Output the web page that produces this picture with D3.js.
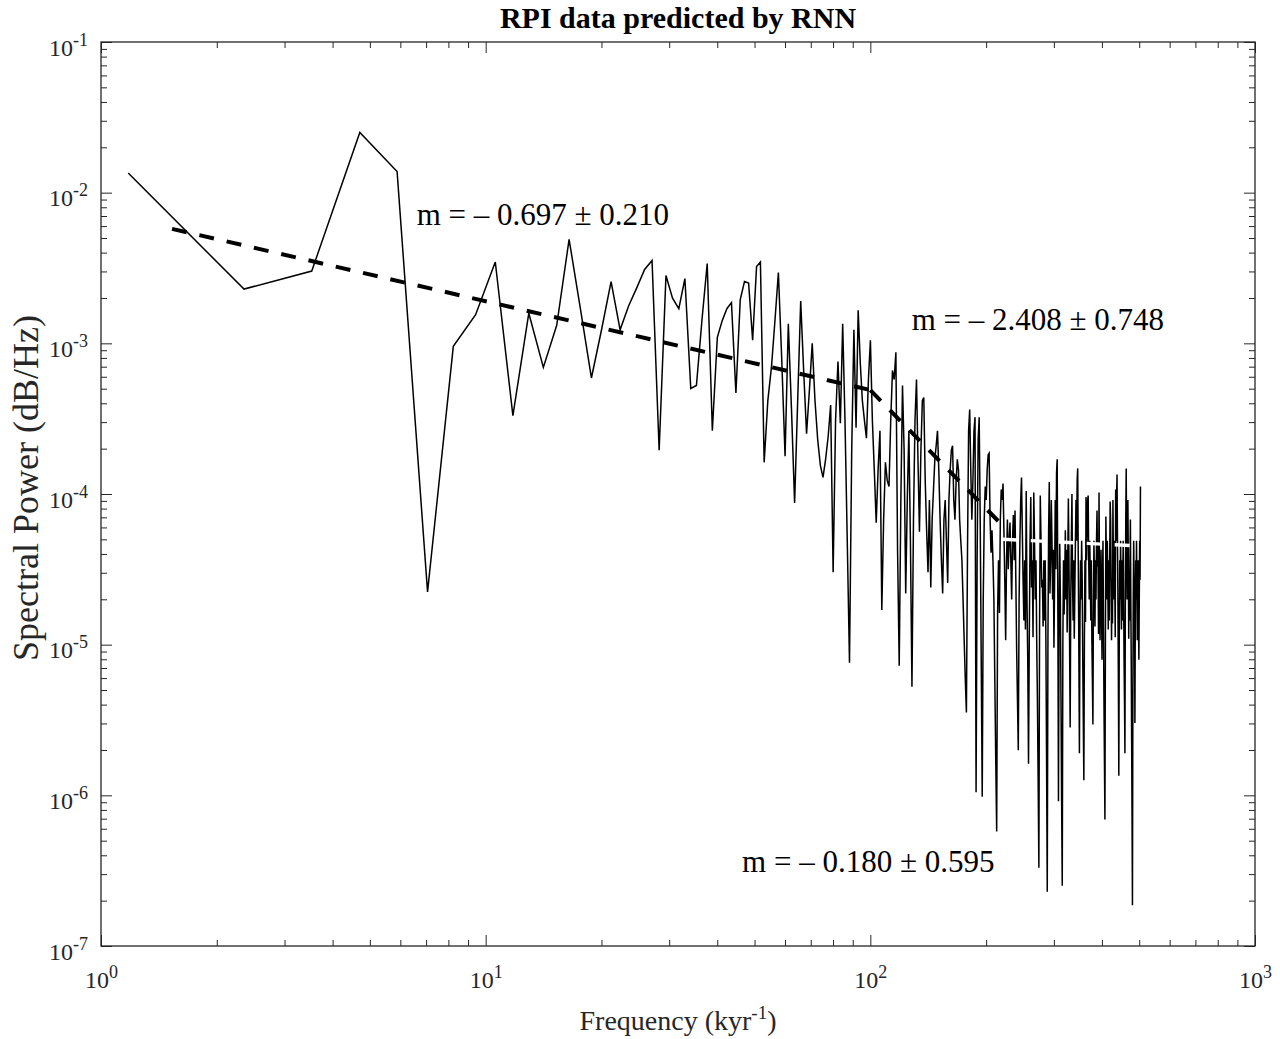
<!DOCTYPE html>
<html>
<head>
<meta charset="utf-8">
<script src="https://cdn.jsdelivr.net/npm/d3@7"></script>
<style>
  body { margin: 0; background: #fff; }
  svg text { font-family: "Liberation Serif", "Times New Roman", serif; fill: #262626; }
</style>
</head>
<body>
<script>

// spacing of the periodogram frequencies (kyr^-1)
var freqStep = 1.177;

// log10 of the spectral power, one value per frequency bin
var logPower = [
  -1.87, -2.64, -2.52, -1.60, -1.86, -4.65, -3.02, -2.81, -2.46, -3.48,
  -2.80, -3.16, -2.88, -2.31, -2.78, -3.23, -2.91, -2.59, -2.91, -2.75,
  -2.63, -2.51, -2.45, -3.71, -2.55, -2.70, -2.77, -2.57, -3.30, -3.28,
  -2.85, -2.47, -3.58, -2.96, -2.85, -2.77, -2.73, -3.33, -2.71, -2.59,
  -2.60, -2.98, -2.49, -2.46, -3.79, -3.38, -3.16, -2.85, -2.53, -3.11,
  -3.75, -2.87, -3.44, -4.06, -3.38, -2.72, -3.18, -3.60, -3.31, -3.00,
  -3.38, -3.64, -3.81, -3.89, -3.77, -3.62, -3.41, -4.52, -3.51, -3.12,
  -3.53, -2.87, -3.51, -4.31, -5.12, -3.71, -2.91, -3.56, -2.78, -3.13,
  -3.38, -3.51, -3.63, -3.24, -2.98, -3.51, -3.84, -4.19, -3.84, -3.58,
  -4.77, -4.17, -3.79, -3.91, -3.95, -3.51, -3.18, -3.24, -3.06, -4.37,
  -5.14, -4.04, -3.28, -3.71, -4.66, -4.04, -3.58, -4.31, -5.28, -4.17,
  -3.51, -3.24, -3.77, -4.25, -3.71, -3.38, -3.36, -3.91, -4.24, -4.52,
  -4.04, -4.62, -4.17, -3.97, -3.77, -3.68, -3.58, -3.84, -4.17, -4.44,
  -4.66, -4.17, -4.04, -4.31, -4.59, -4.04, -3.84, -3.71, -3.68, -4.04,
  -4.17, -3.91, -3.77, -3.84, -4.17, -4.31, -4.44, -4.70, -4.97, -5.23,
  -5.45, -4.37, -3.58, -3.44, -3.84, -4.17, -3.91, -3.58, -3.49, -5.98,
  -4.44, -3.64, -3.49, -4.17, -5.10, -6.01, -4.70, -4.17, -3.95, -4.04,
  -3.84, -3.74, -3.73, -4.17, -4.39, -4.24, -4.44, -4.70, -5.23, -5.77,
  -6.24, -4.79, -4.44, -4.79, -4.17, -3.97, -4.04, -3.93, -4.24, -4.57,
  -4.97, -4.44, -4.17, -4.50, -4.31, -4.19, -4.44, -4.70, -4.31, -4.14,
  -4.44, -4.11, -4.57, -5.04, -5.37, -5.70, -4.70, -4.31, -4.04, -3.89,
  -4.24, -4.57, -4.84, -4.44, -4.90, -3.98,
  -4.70, -5.10, -5.79, -4.97, -4.31,
  -4.02, -4.62, -4.44, -4.95, -3.99, -4.31, -4.70, -4.44, -4.97, -5.37,
  -5.90, -6.48, -4.84, -4.01, -4.31, -4.62,
  -4.57, -4.88, -4.44, -4.84, -4.44,
  -4.97, -5.77, -6.64, -4.97, -4.24, -3.92, -4.66, -4.44, -4.04, -4.31,
  -4.70, -4.37, -5.02, -4.57, -4.04, -4.50,
  -3.86, -3.77, -4.70, -6.04, -4.84,
  -4.31, -4.70, -5.37, -6.04, -6.60, -4.97, -4.44, -4.80, -4.57, -4.24,
  -4.70, -4.37, -4.92, -4.44, -4.03, -4.44, -4.97, -5.55, -4.70, -4.31, -4.00,
  -4.57, -4.84, -4.44, -4.96, -4.64, -4.31, -4.04, -4.31, -3.91, -3.83,
  -4.44, -5.04, -5.72, -4.84, -4.44, -4.70, -4.31, -4.57, -5.10, -5.50,
  -5.90, -4.97, -4.44, -4.85, -4.02, -4.44, -4.24, -4.04, -4.01, -4.44, -4.70,
  -4.31, -4.57, -4.84, -4.44, -4.97, -5.23, -5.53, -4.70, -4.31, -4.57,
  -4.88, -4.44, -4.70, -4.31, -4.11, -4.48,
  -4.44, -4.93, -3.99, -4.57, -4.97,
  -4.70, -4.37, -4.70, -5.10, -4.57, -4.31, -4.84, -5.37, -5.77, -6.16,
  -4.97, -4.15, -4.44, -4.70, -4.31, -4.57, -4.90, -4.44, -4.84, -4.44, -4.05,
  -4.17, -4.57, -4.97, -4.57, -4.86, -4.04, -4.44, -4.70, -4.31, -4.57,
  -4.95, -3.97, -4.31, -4.04, -3.87, -4.31, -4.70, -5.23, -5.87, -4.97,
  -4.44, -4.70, -4.31, -4.57, -4.90, -4.44, -4.84, -4.57, -4.31, -4.70,
  -5.10, -5.37, -5.72, -4.70, -4.17, -3.83, -4.31, -4.70, -4.31, -4.04,
  -4.44, -4.96, -4.57, -4.84, -4.44, -4.17, -4.70, -5.10, -5.63, -6.16,
  -6.73, -5.37, -4.70, -4.31, -4.57, -4.84, -5.52, -4.84, -4.44, -4.70,
  -4.31, -4.57, -4.97, -4.70, -4.44, -4.84, -5.10, -4.70, -4.31, -4.57,
  -3.95
];

// the three power-law fits: frequency ends and log10 power at those ends
var fitFreq = [[1.53, 100], [100, 217], [221, 502]];
var fitLogPower = [[-2.24, -3.31], [-3.31, -4.19], [-4.30, -4.345]];

// slope annotations and their anchors (frequency, log10 power)
var fitLabels = [
  "m = \u2013 0.697 \u00b1 0.210",
  "m = \u2013 2.408 \u00b1 0.748",
  "m = \u2013 0.180 \u00b1 0.595"
];
var fitLabelFreq = [6.62, 128.1, 46.4];
var fitLabelLogPower = [-2.215, -2.911, -6.509];

var xTicks = [1, 10, 100, 1000];
var xTickExp = ["0", "1", "2", "3"];
var yTicks = [1e-7, 1e-6, 1e-5, 1e-4, 1e-3, 1e-2, 1e-1];
var yTickExp = ["-7", "-6", "-5", "-4", "-3", "-2", "-1"];

var titleText = "RPI data predicted by RNN";
var yLabelText = "Spectral Power (dB/Hz)";


function PlotSpectrum() {

    var margin = { top: 42, right: 25, bottom: 93, left: 101 };
    var width = 1280 - margin.left - margin.right;
    var height = 1039 - margin.top - margin.bottom;

    var data = logPower.map(function (v, i) {
        return { f: (i + 1) * freqStep, p: Math.pow(10, v) };
    });

    var svg = d3.select("body").append("svg")
        .attr("width", 1280)
        .attr("height", 1039);

    var g = svg.append("g")
        .attr("transform", "translate(" + margin.left + "," + margin.top + ")");

    var x = d3.scaleLog().domain([1, 1000]).range([0, width]);
    var y = d3.scaleLog().domain([1e-7, 1e-1]).range([height, 0]);

    // minor tick positions 2..9 in each decade
    var xMinor = [], yMinor = [];
    [1, 10, 100].forEach(function (d) {
        for (var m = 2; m < 10; m++) xMinor.push(d * m);
    });
    [1e-7, 1e-6, 1e-5, 1e-4, 1e-3, 1e-2].forEach(function (d) {
        for (var m = 2; m < 10; m++) yMinor.push(d * m);
    });

    // spectrum line
    var line = d3.line()
        .x(function (d) { return x(d.f); })
        .y(function (d) { return y(d.p); });

    g.append("path")
        .datum(data)
        .attr("fill", "none")
        .attr("stroke", "#000")
        .attr("stroke-width", 1.5)
        .attr("d", line);

    // fitted slopes
    var fitColors = ["#000", "#000", "#fff"];
    fitFreq.forEach(function (fr, i) {
        var pts = [
            { f: fr[0], p: Math.pow(10, fitLogPower[i][0]) },
            { f: fr[1], p: Math.pow(10, fitLogPower[i][1]) }
        ];
        g.append("path")
            .datum(pts)
            .attr("fill", "none")
            .attr("stroke", fitColors[i])
            .attr("stroke-width", i == 2 ? 3.4 : 4)
            .attr("stroke-dasharray", "15,13")
            .attr("d", line);
    });

    // slope labels
    fitLabels.forEach(function (t, i) {
        g.append("text")
            .attr("x", x(fitLabelFreq[i]))
            .attr("y", y(Math.pow(10, fitLabelLogPower[i])))
            .style("font-size", "31px")
            .style("fill", "#000")
            .text(t);
    });

    // axes: major + minor ticks pointing inwards, on all four sides
    function styleAxis(sel) {
        sel.select(".domain").remove();
        sel.selectAll("line").attr("stroke", "#262626").attr("stroke-width", 1);
    }

    g.append("g").attr("transform", "translate(0," + height + ")")
        .call(d3.axisBottom(x).tickValues(xMinor).tickSize(-6).tickFormat(""))
        .call(styleAxis);
    g.append("g")
        .call(d3.axisTop(x).tickValues(xMinor).tickSize(-6).tickFormat(""))
        .call(styleAxis);
    g.append("g")
        .call(d3.axisLeft(y).tickValues(yMinor).tickSize(-6).tickFormat(""))
        .call(styleAxis);
    g.append("g").attr("transform", "translate(" + width + ",0)")
        .call(d3.axisRight(y).tickValues(yMinor).tickSize(-6).tickFormat(""))
        .call(styleAxis);

    g.append("g")
        .call(d3.axisTop(x).tickValues(xTicks).tickSize(-11).tickFormat(""))
        .call(styleAxis);
    g.append("g").attr("transform", "translate(" + width + ",0)")
        .call(d3.axisRight(y).tickValues(yTicks).tickSize(-11).tickFormat(""))
        .call(styleAxis);

    var xAxis = g.append("g")
        .attr("transform", "translate(0," + height + ")")
        .call(d3.axisBottom(x).tickValues(xTicks).tickSize(-11).tickFormat(""))
        .call(styleAxis);

    xAxis.selectAll(".tick text").remove();
    xAxis.selectAll(".tick").append("text")
        .attr("y", 42)
        .attr("text-anchor", "middle")
        .style("font-size", "24px")
        .each(function (d, i) {
            var t = d3.select(this);
            t.append("tspan").text("10");
            t.append("tspan").attr("dy", -10).style("font-size", "18px").text(xTickExp[i]);
        });

    var yAxis = g.append("g")
        .call(d3.axisLeft(y).tickValues(yTicks).tickSize(-11).tickFormat(""))
        .call(styleAxis);

    yAxis.selectAll(".tick text").remove();
    yAxis.selectAll(".tick").append("text")
        .attr("x", -13)
        .attr("y", 13)
        .attr("text-anchor", "end")
        .style("font-size", "24px")
        .each(function (d, i) {
            var t = d3.select(this);
            t.append("tspan").text("10");
            t.append("tspan").attr("dy", -10).style("font-size", "18px").text(yTickExp[i]);
        });

    // box
    g.append("rect")
        .attr("width", width)
        .attr("height", height)
        .attr("fill", "none")
        .attr("stroke", "#262626")
        .attr("stroke-width", 1.3);

    // title
    svg.append("text")
        .attr("x", margin.left + width / 2)
        .attr("y", 28)
        .attr("text-anchor", "middle")
        .style("font-size", "30px")
        .style("font-weight", "bold")
        .style("fill", "#000")
        .text(titleText);

    // x label
    var xl = svg.append("text")
        .attr("x", margin.left + width / 2)
        .attr("y", 1030)
        .attr("text-anchor", "middle")
        .style("font-size", "28px");
    xl.append("tspan").text("Frequency (kyr");
    xl.append("tspan").attr("dy", -11).style("font-size", "19px").text("-1");
    xl.append("tspan").attr("dy", 11).text(")");

    // y label
    svg.append("text")
        .attr("transform", "translate(38," + (margin.top + height / 2 - 6) + ") rotate(-90)")
        .attr("text-anchor", "middle")
        .style("font-size", "36px")
        .text(yLabelText);
}

PlotSpectrum();

</script>
</body>
</html>
